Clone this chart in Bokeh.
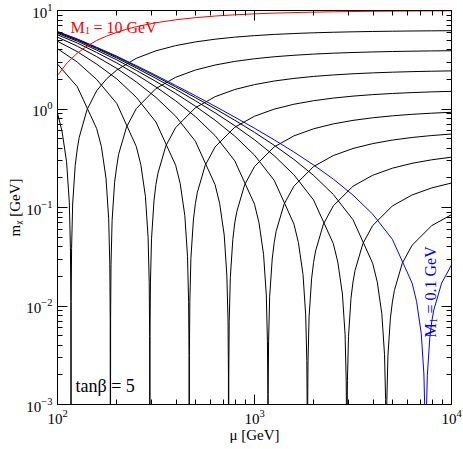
from bokeh.plotting import figure
from bokeh.models import LogAxis, FixedTicker, Label
from bokeh.embed import file_html
from bokeh.resources import INLINE

# ---------------- data ----------------
# common mu sample points [GeV]
mu_grid = [100, 126, 158, 200, 251, 316, 398, 501, 631, 794, 1000,
           1259, 1585, 1995, 2512, 3162, 3981, 5012, 6310, 7943, 10000]

# M1 values of the curves [GeV]
m1_values = [0.1, 0.158, 0.251, 0.398, 0.631, 1.0, 1.585, 2.512, 3.981, 6.31, 10.0]

# m_chi on mu_grid for each curve
mchi_M1_010 = [6.116, 5.147, 4.239, 3.438, 2.758, 2.194, 1.735, 1.364, 1.066, 0.8275, 0.6377,
               0.4865, 0.366, 0.2704, 0.1942, 0.1337, 0.0856, 0.0475, 0.0171, 0.0070, 0.0261]
mchi_M1_016 = [6.067, 5.095, 4.185, 3.382, 2.701, 2.137, 1.677, 1.306, 1.007, 0.769, 0.5793,
               0.4281, 0.3075, 0.2119, 0.1357, 0.0752, 0.0271, 0.0110, 0.0414, 0.0655, 0.0846]
mchi_M1_025 = [5.989, 5.012, 4.099, 3.294, 2.611, 2.046, 1.586, 1.214, 0.9152, 0.6768, 0.4868,
               0.3355, 0.2149, 0.1192, 0.0430, 0.0175, 0.0656, 0.1037, 0.1341, 0.1582, 0.1773]
mchi_M1_040 = [5.866, 4.881, 3.962, 3.154, 2.469, 1.902, 1.440, 1.068, 0.769, 0.5303, 0.3402,
               0.1887, 0.0681, 0.0277, 0.1039, 0.1644, 0.2125, 0.2506, 0.2810, 0.3051, 0.3242]
mchi_M1_063 = [5.671, 4.673, 3.746, 2.932, 2.243, 1.674, 1.210, 0.837, 0.537, 0.298, 0.108,
               0.044, 0.1645, 0.2606, 0.3368, 0.3973, 0.4454, 0.4835, 0.5139, 0.5380, 0.5571]
mchi_M1_100 = [5.361, 4.344, 3.403, 2.580, 1.885, 1.312, 0.8457, 0.4712, 0.1701, 0.0698, 0.2605,
               0.4126, 0.5332, 0.6296, 0.7058, 0.7663, 0.8144, 0.8525, 0.8829, 0.9070, 0.9261]
mchi_M1_158 = [4.870, 3.822, 2.859, 2.022, 1.317, 0.7377, 0.2677, 0.1091, 0.4119, 0.6530, 0.8443,
               0.997, 1.1176, 1.214, 1.2908, 1.3513, 1.3994, 1.4375, 1.4679, 1.4920, 1.5111]
mchi_M1_251 = [4.093, 2.995, 1.998, 1.137, 0.4173, 0.1717, 0.6481, 1.029, 1.334, 1.577, 1.769,
               1.923, 2.044, 2.141, 2.217, 2.278, 2.326, 2.365, 2.395, 2.419, 2.438]
mchi_M1_398 = [2.860, 1.685, 0.6336, 0.2643, 1.008, 1.613, 2.100, 2.486, 2.796, 3.042, 3.236,
               3.391, 3.511, 3.609, 3.686, 3.747, 3.795, 3.834, 3.864, 3.888, 3.907]
mchi_M1_631 = [0.9061, 0.3925, 1.530, 2.486, 3.269, 3.898, 4.401, 4.796, 5.113, 5.364, 5.560,
               5.717, 5.838, 5.937, 6.014, 6.075, 6.124, 6.163, 6.193, 6.217, 6.236]
mchi_M1_1000 = [2.190, 3.684, 4.958, 6.006, 6.850, 7.517, 8.046, 8.457, 8.785, 9.043, 9.242,
                9.404, 9.524, 9.625, 9.703, 9.764, 9.814, 9.853, 9.883, 9.907, 9.926]

# extra points read around each dip (m_chi -> 0) and on the rising branch
extra_mu_M1_010 = [6651, 7021, 7242, 7338, 7375, 7390, 7405, 7442, 7538, 7760, 8129, 8913]
extra_m_M1_010 = [0.0111, 0.00526, 0.00204, 0.000705, 0.0002, 1e-6, 0.0002, 0.000695, 0.00196, 0.00476, 0.00909, 0.0171]
extra_mu_M1_016 = [4197, 4430, 4570, 4630, 4654, 4663, 4672, 4696, 4756, 4896, 5129, 5623]
extra_m_M1_016 = [0.0176, 0.00834, 0.00323, 0.00112, 0.000317, 1e-6, 0.000317, 0.00110, 0.00311, 0.00754, 0.0144, 0.0271]
extra_mu_M1_025 = [2648, 2795, 2883, 2921, 2936, 2942, 2948, 2963, 3001, 3089, 3236, 3548]
extra_m_M1_025 = [0.0279, 0.0132, 0.00512, 0.00177, 0.000502, 1e-6, 0.000502, 0.00175, 0.00492, 0.0120, 0.0228, 0.0429]
extra_mu_M1_040 = [1670, 1763, 1819, 1843, 1852, 1856, 1860, 1869, 1893, 1949, 2042, 2239]
extra_m_M1_040 = [0.0442, 0.0209, 0.00812, 0.00281, 0.000796, 1e-6, 0.000796, 0.00277, 0.00780, 0.0189, 0.0362, 0.068]
extra_mu_M1_063 = [1054, 1112, 1148, 1163, 1169, 1171, 1173, 1179, 1194, 1230, 1288, 1413]
extra_m_M1_063 = [0.0700, 0.0332, 0.0129, 0.00445, 0.00126, 1e-6, 0.00126, 0.00439, 0.0124, 0.0300, 0.0574, 0.108]
extra_mu_M1_100 = [665, 702, 724, 734, 737.5, 739, 740.5, 744, 754, 776, 813, 891]
extra_m_M1_100 = [0.1106, 0.0524, 0.0203, 0.00703, 0.00199, 1e-6, 0.00199, 0.00693, 0.0195, 0.0474, 0.0906, 0.170]
extra_mu_M1_158 = [419.7, 443.0, 457.0, 463.0, 465.4, 466.3, 467.2, 469.6, 475.6, 489.6, 512.9, 562]
extra_m_M1_158 = [0.1744, 0.0826, 0.0320, 0.0111, 0.00314, 1e-6, 0.00314, 0.0109, 0.0308, 0.0748, 0.1428, 0.268]
extra_mu_M1_251 = [264.8, 279.5, 288.3, 292.1, 293.6, 294.2, 294.8, 296.3, 300.1, 308.9, 323.6, 355]
extra_m_M1_251 = [0.2728, 0.1293, 0.0501, 0.0173, 0.00492, 1e-6, 0.00492, 0.0171, 0.0482, 0.1170, 0.2234, 0.4235]
extra_mu_M1_398 = [167.0, 176.3, 181.9, 184.3, 185.2, 185.6, 186.0, 186.9, 189.3, 194.9, 204.2, 224]
extra_m_M1_398 = [0.416, 0.1984, 0.0769, 0.0266, 0.00754, 1e-6, 0.00754, 0.0262, 0.0739, 0.1795, 0.346, 0.655]
extra_mu_M1_631 = [105.4, 111.2, 114.8, 116.3, 116.9, 117.1, 117.3, 117.9, 119.4, 123.0, 128.8, 141.3, 177.8]
extra_m_M1_631 = [0.598, 0.291, 0.1129, 0.0390, 0.0111, 1e-6, 0.0111, 0.0385, 0.1085, 0.268, 0.513, 0.985, 2.031]
extra_mu_M1_1000 = [112.2, 141.3, 177.8, 223.9]
extra_m_M1_1000 = [2.962, 4.351, 5.509, 6.452]

# axis ticks
x_major_ticks = [100, 1000, 10000]
x_minor_ticks = [200, 300, 400, 500, 600, 700, 800, 900,
                 2000, 3000, 4000, 5000, 6000, 7000, 8000, 9000]
y_major_ticks = [0.001, 0.01, 0.1, 1, 10]
y_minor_ticks = [0.002, 0.003, 0.004, 0.005, 0.006, 0.007, 0.008, 0.009,
                 0.02, 0.03, 0.04, 0.05, 0.06, 0.07, 0.08, 0.09,
                 0.2, 0.3, 0.4, 0.5, 0.6, 0.7, 0.8, 0.9,
                 2, 3, 4, 5, 6, 7, 8, 9]

FONT = "Liberation Serif"

# ---------------- figure ----------------
p = figure(width=463, height=449, x_axis_type="log", y_axis_type="log",
           x_range=(100, 10000), y_range=(1e-3, 10),
           output_backend="svg", toolbar_location=None,
           min_border_left=57, min_border_right=12, min_border_top=10, min_border_bottom=45)
p.xgrid.visible = False
p.ygrid.visible = False
p.outline_line_color = "black"
p.background_fill_color = "white"
p.border_fill_color = "white"

x_ticker = FixedTicker(ticks=x_major_ticks, minor_ticks=x_minor_ticks)
y_ticker = FixedTicker(ticks=y_major_ticks, minor_ticks=y_minor_ticks)


def style_axis(ax, show_labels):
    ax.major_tick_in = 10
    ax.major_tick_out = 0
    ax.minor_tick_in = 5
    ax.minor_tick_out = 0
    ax.axis_line_color = "black"
    ax.major_tick_line_color = "black"
    ax.minor_tick_line_color = "black"
    ax.major_label_text_font = FONT
    ax.major_label_text_color = "black"
    ax.axis_label_text_font = FONT
    ax.axis_label_text_font_style = "normal"
    ax.axis_label_text_font_size = "15px"
    ax.axis_label_text_color = "black"
    if show_labels:
        ax.major_label_text_font_size = "15px"
        ax.major_label_standoff = 5
        ax.axis_label_standoff = 0
    else:
        ax.major_label_text_font_size = "2px"
        ax.major_label_text_alpha = 0.0
        ax.major_label_standoff = 0


p.xaxis[0].ticker = x_ticker
p.yaxis[0].ticker = y_ticker
style_axis(p.xaxis[0], True)
style_axis(p.yaxis[0], True)
p.xaxis[0].axis_label = "\u03bc [GeV]"
p.yaxis[0].axis_label = "m\u1d6a [GeV]"

top_axis = LogAxis(ticker=x_ticker)
style_axis(top_axis, False)
p.add_layout(top_axis, "above")
right_axis = LogAxis(ticker=y_ticker)
style_axis(right_axis, False)
p.add_layout(right_axis, "right")

curves = [
    (mchi_M1_631, extra_mu_M1_631, extra_m_M1_631, "black"),
    (mchi_M1_398, extra_mu_M1_398, extra_m_M1_398, "black"),
    (mchi_M1_251, extra_mu_M1_251, extra_m_M1_251, "black"),
    (mchi_M1_158, extra_mu_M1_158, extra_m_M1_158, "black"),
    (mchi_M1_100, extra_mu_M1_100, extra_m_M1_100, "black"),
    (mchi_M1_063, extra_mu_M1_063, extra_m_M1_063, "black"),
    (mchi_M1_040, extra_mu_M1_040, extra_m_M1_040, "black"),
    (mchi_M1_025, extra_mu_M1_025, extra_m_M1_025, "black"),
    (mchi_M1_016, extra_mu_M1_016, extra_m_M1_016, "black"),
    (mchi_M1_010, extra_mu_M1_010, extra_m_M1_010, "#0000ff"),
    (mchi_M1_1000, extra_mu_M1_1000, extra_m_M1_1000, "#ff0000"),
]

for grid_vals, ex_mu, ex_m, col in curves:
    pts = sorted(list(zip(mu_grid, grid_vals)) + list(zip(ex_mu, ex_m)))
    xs = [a for a, b in pts]
    ys = [b for a, b in pts]
    p.line(xs, ys, line_color=col, line_width=1.0)


# ---------------- texts (positions given in page pixels) ----------------
def dx(px):
    return 10 ** (2 + (px - 57) / 197.0)


def dy(py):
    return 10 ** (1 - (py - 10) / 98.5)


def lab(text, px, py, size, color="black", angle=0.0, align="left", baseline="alphabetic"):
    p.add_layout(Label(x=dx(px), y=dy(py), text=text, text_font=FONT,
                       text_font_size=size, text_color=color, angle=angle,
                       text_align=align, text_baseline=baseline))


# red label  M_1 = 10 GeV
lab("M", 70, 26.5, "16px", "#ff0000")
lab("1", 84.5, 30, "10px", "#ff0000")
lab("= 10 GeV", 93, 26.5, "16px", "#ff0000")

# blue rotated label  M_1 = 0.1 GeV
ROT = 1.5707963
lab("M", 429.5, 337, "16px", "#0000ff", angle=ROT)
lab("1", 433, 322.5, "10px", "#0000ff", angle=ROT)
lab("= 0.1 GeV", 429.5, 313, "16px", "#0000ff", angle=ROT)

# tan(beta) = 5
lab("tan\u03b2 = 5", 75, 385.5, "18px")

open("out.html", "w").write(file_html(p, INLINE))
